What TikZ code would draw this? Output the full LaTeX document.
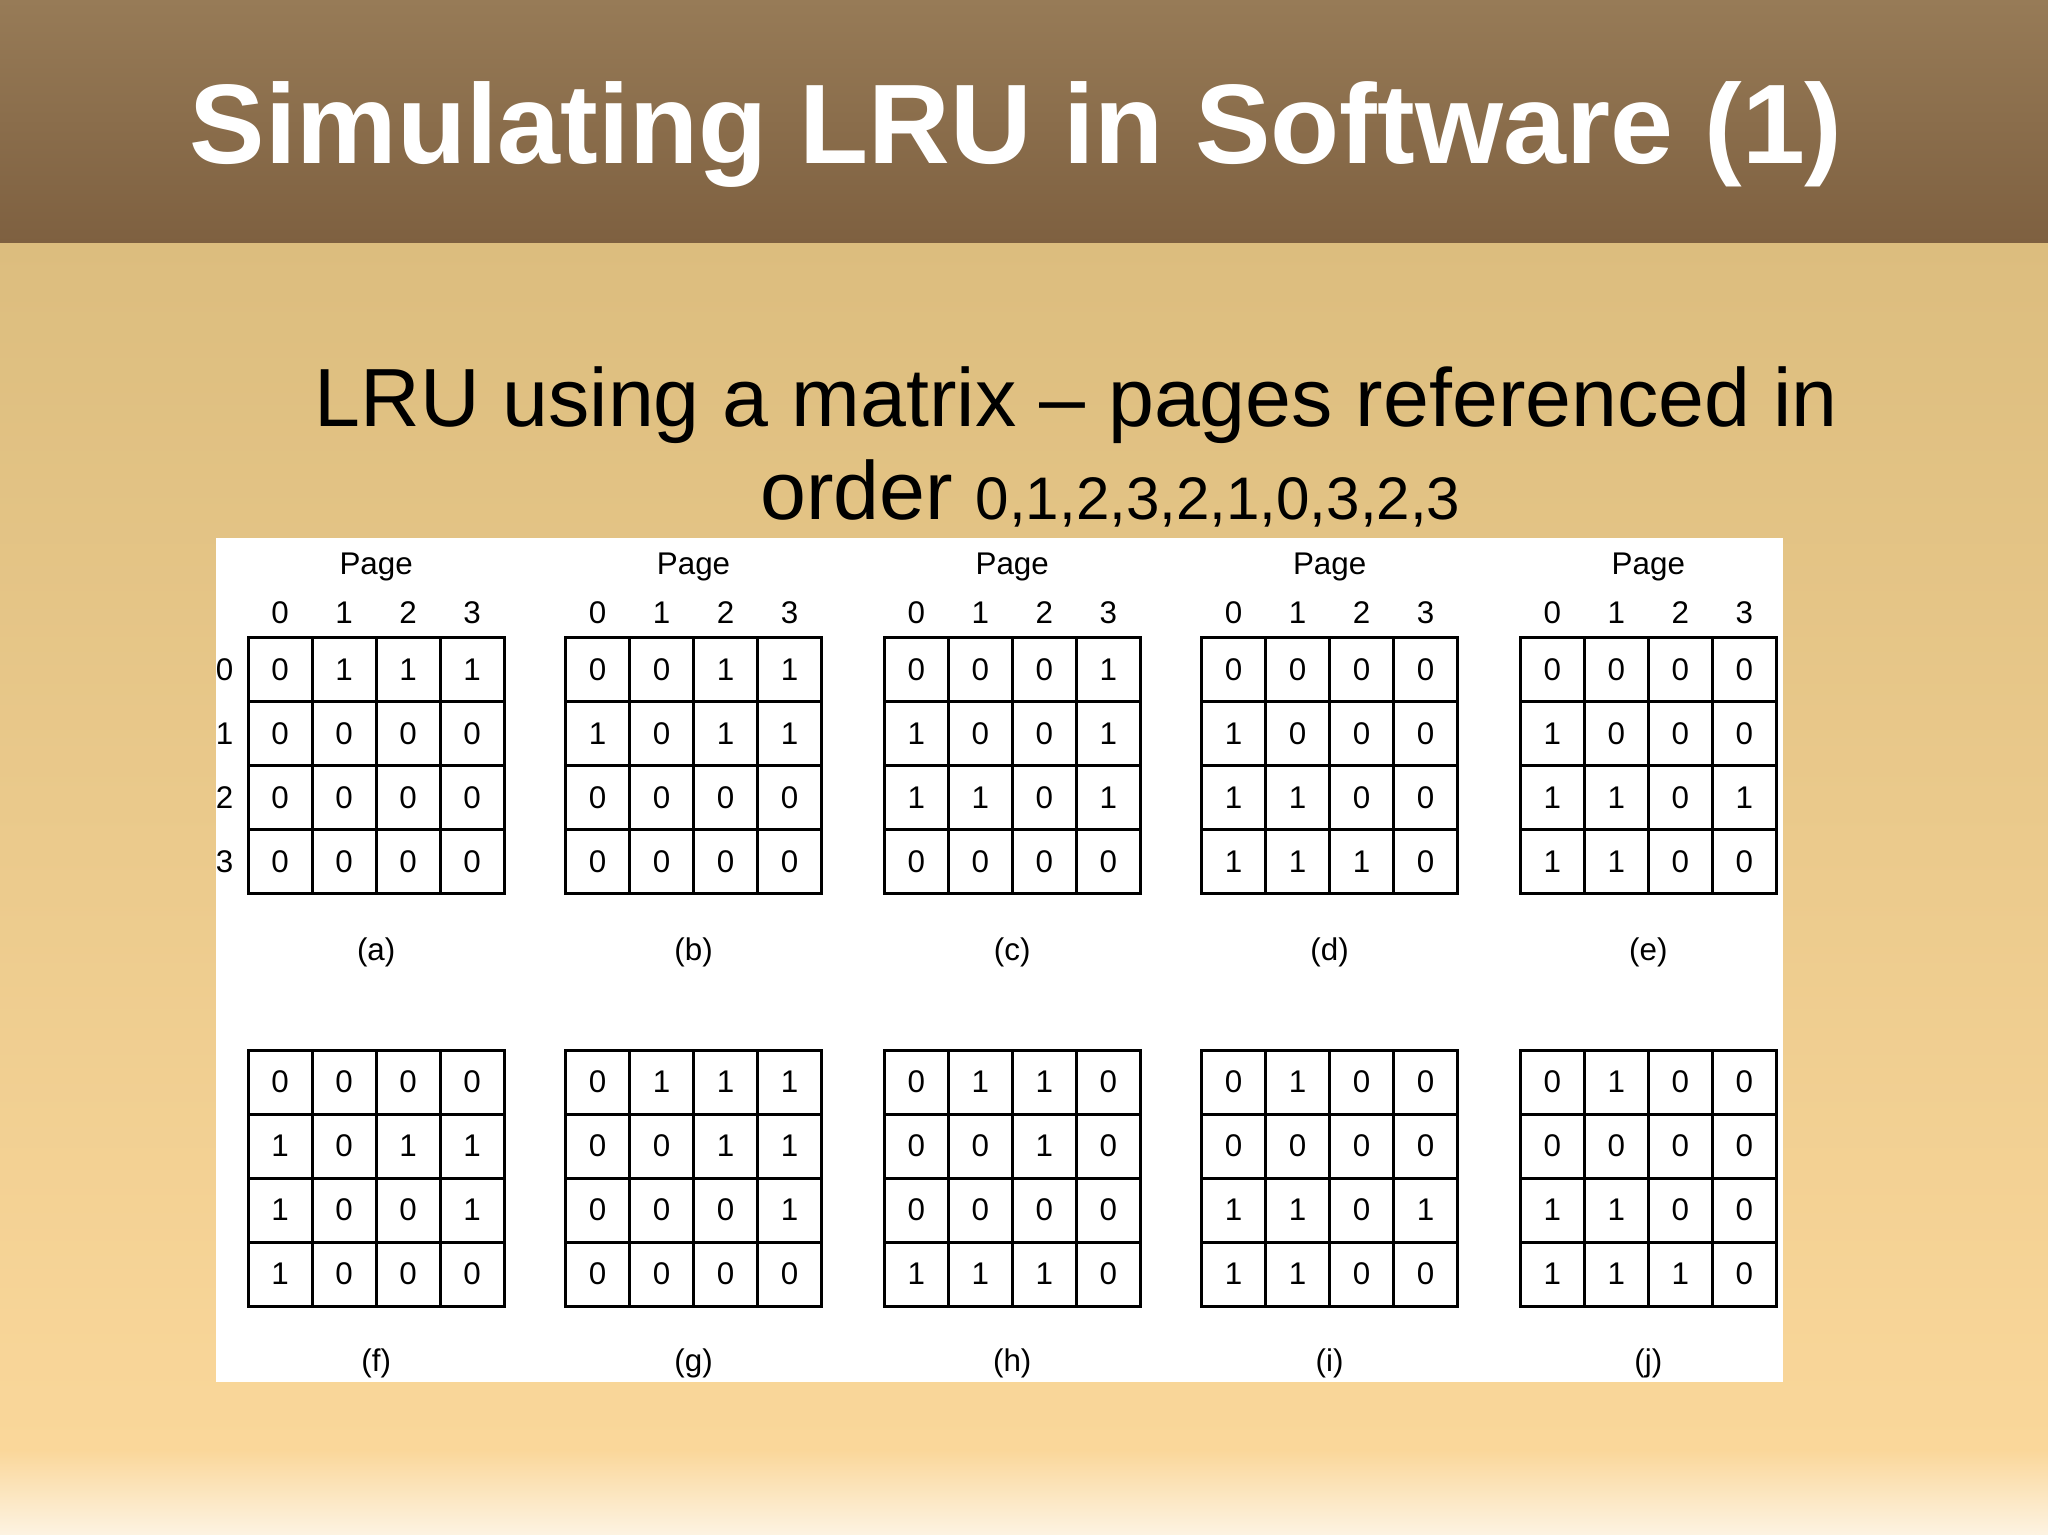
\documentclass[tikz,border=0pt]{standalone}
\usepackage{fontspec}
\setmainfont{Liberation Sans}
\begin{document}
\begin{tikzpicture}[x=0.5pt,y=-0.5pt,
  cell/.style={draw=black,line width=1.1pt,minimum width=24.5pt,minimum height=24.5pt,inner sep=0pt,font=\fontsize{12}{13}\selectfont},
  lbl/.style={font=\fontsize{12}{13}\selectfont,inner sep=0pt}]
\definecolor{tb}{HTML}{977B57}\definecolor{tbb}{HTML}{7E6040}
\definecolor{bgt}{HTML}{DCBD7E}\definecolor{bgb}{HTML}{FAD79A}\definecolor{bgl}{HTML}{FDF3E2}
\useasboundingbox (0,0) rectangle (1568,1175);
\shade[top color=bgt,bottom color=bgb] (0,185) rectangle (1568,1110);
\shade[top color=bgb,bottom color=bgl] (0,1110) rectangle (1568,1175);
\shade[top color=tb,bottom color=tbb] (0,0) rectangle (1568,186);
\node[text=white,font=\fontsize{43.3}{46}\selectfont\bfseries] (title) at (778,103) {Simulating LRU in Software (1)};
\node[font=\fontsize{31.6}{34}\selectfont] (sub1) at (824,310) {LRU using a matrix -- pages referenced in};
\node[font=\fontsize{31.6}{34}\selectfont] (sub2) at (850,378) {order {\fontsize{23}{25}\selectfont 0,1,2,3,2,1,0,3,2,3}};
\fill[white] (165,412) rectangle (1365,1058);
\def\drawmat#1#2#3#4#5{%
 \foreach \r [count=\i from 0] in {#4} {%
   \foreach \v [count=\j from 0] in \r {%
     \node[cell] (m#3-\i-\j) at ({#1+24.5+49*\j},{#2+24.5+49*\i}) {\v};
   }}
 \node[lbl] (lab#3) at ({#1+98},{#2+(#5)}) {(#3)};}
\drawmat{190}{488}{a}{{0,1,1,1},{0,0,0,0},{0,0,0,0},{0,0,0,0}}{241}
\drawmat{433}{488}{b}{{0,0,1,1},{1,0,1,1},{0,0,0,0},{0,0,0,0}}{241}
\drawmat{677}{488}{c}{{0,0,0,1},{1,0,0,1},{1,1,0,1},{0,0,0,0}}{241}
\drawmat{920}{488}{d}{{0,0,0,0},{1,0,0,0},{1,1,0,0},{1,1,1,0}}{241}
\drawmat{1164}{488}{e}{{0,0,0,0},{1,0,0,0},{1,1,0,1},{1,1,0,0}}{241}
\drawmat{190}{804}{f}{{0,0,0,0},{1,0,1,1},{1,0,0,1},{1,0,0,0}}{240}
\drawmat{433}{804}{g}{{0,1,1,1},{0,0,1,1},{0,0,0,1},{0,0,0,0}}{240}
\drawmat{677}{804}{h}{{0,1,1,0},{0,0,1,0},{0,0,0,0},{1,1,1,0}}{240}
\drawmat{920}{804}{i}{{0,1,0,0},{0,0,0,0},{1,1,0,1},{1,1,0,0}}{240}
\drawmat{1164}{804}{j}{{0,1,0,0},{0,0,0,0},{1,1,0,0},{1,1,1,0}}{240}
\foreach \x [count=\k] in {190,433,677,920,1164} {
  \node[lbl] (page\k) at (\x+98,434) {Page};
  \foreach \c in {0,1,2,3} \node[lbl] (col\k-\c) at ({\x+24.5+49*\c},469) {\c};
}
\foreach \c in {0,1,2,3} \node[lbl] (row\c) at (172,{512.5+49*\c}) {\c};
\end{tikzpicture}
\end{document}
